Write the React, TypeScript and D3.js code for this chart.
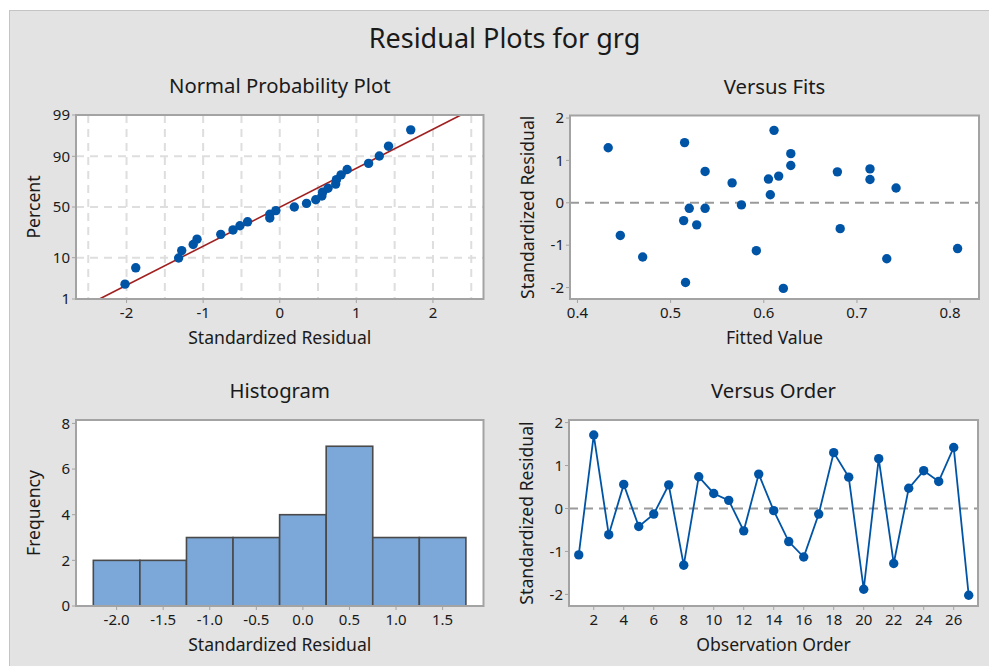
import React from "react";
import * as d3 from "d3";

// residuals by observation order (standardized)
const residuals = [
  -1.08, 1.71, -0.61, 0.56, -0.42, -0.13, 0.55, -1.32, 0.74, 0.35, 0.19, -0.52, 0.8, -0.05,
  -0.77, -1.13, -0.13, 1.3, 0.73, -1.88, 1.16, -1.28, 0.47, 0.88, 0.63, 1.42, -2.02,
];
const fittedValues = [
  0.808, 0.611, 0.682, 0.605, 0.514, 0.52, 0.714, 0.732, 0.537, 0.742, 0.607, 0.528, 0.714, 0.576,
  0.446, 0.592, 0.537, 0.433, 0.679, 0.516, 0.629, 0.47, 0.566, 0.629, 0.616, 0.515, 0.621,
];
const histEdges = [-2.25, -1.75, -1.25, -0.75, -0.25, 0.25, 0.75, 1.25, 1.75];
const histCounts = [2, 2, 3, 3, 4, 7, 3, 3];

const probTicks = [1, 10, 50, 90, 99];
const probGrid = [10, 50, 90];
const residTicks = [-2, -1, 0, 1, 2];
const fitTicks = [0.4, 0.5, 0.6, 0.7, 0.8];
const histXTicks = [-2.0, -1.5, -1.0, -0.5, 0.0, 0.5, 1.0, 1.5];
const histYTicks = [0, 2, 4, 6, 8];
const orderTicks = [2, 4, 6, 8, 10, 12, 14, 16, 18, 20, 22, 24, 26];

const FONT = "'Noto Sans', 'Open Sans', sans-serif";
const TEXT = "#1a1a1a";
const FRAME = "#a3a3a3";
const BLUE = "#0054a6";

// inverse normal cdf (Acklam)
const probit = (p: number) => {
  const a = [-39.69683028665376, 220.9460984245205, -275.9285104469687, 138.357751867269, -30.66479806614716, 2.506628277459239];
  const b = [-54.47609879822406, 161.5858368580409, -155.6989798598866, 66.80131188771972, -13.28068155288572];
  const c = [-0.007784894002430293, -0.3223964580411365, -2.400758277161838, -2.549732539343734, 4.374664141464968, 2.938163982698783];
  const d = [0.007784695709041462, 0.3224671290700398, 2.445134137142996, 3.754408661907416];
  const tail = (q: number) =>
    (((((c[0] * q + c[1]) * q + c[2]) * q + c[3]) * q + c[4]) * q + c[5]) /
    ((((d[0] * q + d[1]) * q + d[2]) * q + d[3]) * q + 1);
  if (p < 0.02425) return tail(Math.sqrt(-2 * Math.log(p)));
  if (p > 1 - 0.02425) return -tail(Math.sqrt(-2 * Math.log(1 - p)));
  const q = p - 0.5;
  const r = q * q;
  return (
    ((((((a[0] * r + a[1]) * r + a[2]) * r + a[3]) * r + a[4]) * r + a[5]) * q) /
    (((((b[0] * r + b[1]) * r + b[2]) * r + b[3]) * r + b[4]) * r + 1)
  );
};

type Box = { x0: number; x1: number; y0: number; y1: number };

const Panel = ({
  box,
  title,
  xLabel,
  yLabel,
  xScale,
  yScale,
  xTicks,
  yTicks,
  xFmt = (v: number) => String(v),
  yFmt = (v: number) => String(v),
  children,
}: any) => {
  const { x0, x1, y0, y1 } = box as Box;
  const cx = (x0 + x1) / 2;
  const cy = (y0 + y1) / 2;
  return (
    <g fontFamily={FONT} fill={TEXT}>
      <text x={cx} y={y0 - 22} textAnchor="middle" fontSize={20.3}>
        {title}
      </text>
      <rect x={x0} y={y0} width={x1 - x0} height={y1 - y0} fill="white" />
      {children}
      <rect x={x0} y={y0} width={x1 - x0} height={y1 - y0} fill="none" stroke={FRAME} strokeWidth={2} />
      {xTicks.map((t: number) => (
        <g key={"x" + t}>
          <line x1={xScale(t)} x2={xScale(t)} y1={y1 + 1} y2={y1 + 4} stroke={FRAME} strokeWidth={1} />
          <text x={xScale(t)} y={y1 + 19} textAnchor="middle" fontSize={15}>
            {xFmt(t)}
          </text>
        </g>
      ))}
      {yTicks.map((t: number) => (
        <g key={"y" + t}>
          <line x1={x0 - 4} x2={x0 - 1} y1={yScale(t)} y2={yScale(t)} stroke={FRAME} strokeWidth={1} />
          <text x={x0 - 6} y={yScale(t)} dy="0.35em" textAnchor="end" fontSize={15}>
            {yFmt(t)}
          </text>
        </g>
      ))}
      <text x={cx} y={y1 + 45} textAnchor="middle" fontSize={17.6}>
        {xLabel}
      </text>
      <text
        transform={`translate(${x0 - 42}, ${cy}) rotate(-90)`}
        textAnchor="middle"
        dy="0.35em"
        fontSize={17.6}
      >
        {yLabel}
      </text>
    </g>
  );
};

const ProbabilityPlot = ({ box }: { box: Box }) => {
  const n = residuals.length;
  const sorted = residuals.slice().sort((a, b) => a - b);
  const x = d3.scaleLinear().domain([-2.66, 2.66]).range([box.x0, box.x1]);
  const y = d3.scaleLinear().domain([probit(0.01), probit(0.99)]).range([box.y1, box.y0]);
  const yp = (p: number) => y(probit(p / 100));
  const mean = d3.mean(residuals) as number;
  const sd = d3.deviation(residuals) as number;
  const zEnds = [probit(0.01), probit(0.99)];
  const fitLine = d3
    .line<number>()
    .x((z) => x(mean + sd * z))
    .y((z) => y(z))(zEnds);
  const grid = d3.range(-2.5, 2.51, 0.5);
  return (
    <Panel
      box={box}
      title="Normal Probability Plot"
      xLabel="Standardized Residual"
      yLabel="Percent"
      xScale={x}
      yScale={yp}
      xTicks={residTicks}
      yTicks={probTicks}
    >
      {grid.map((g) => (
        <line key={"g" + g} x1={x(g)} x2={x(g)} y1={box.y0} y2={box.y1} stroke="#dedede" strokeWidth={2} strokeDasharray="8,6" />
      ))}
      {probGrid.map((p) => (
        <line key={"h" + p} x1={box.x0} x2={box.x1} y1={yp(p)} y2={yp(p)} stroke="#dedede" strokeWidth={2} strokeDasharray="8,6" />
      ))}
      <path d={fitLine as string} stroke="#a02020" strokeWidth={1.6} fill="none" />
      {sorted.map((r, i) => (
        <circle key={i} cx={x(r)} cy={y(probit((i + 1 - 0.3) / (n + 0.4)))} r={4.7} fill={BLUE} />
      ))}
    </Panel>
  );
};

const FitsPlot = ({ box }: { box: Box }) => {
  const x = d3.scaleLinear().domain([0.392, 0.831]).range([box.x0, box.x1]);
  const y = d3.scaleLinear().domain([-2.27, 2.06]).range([box.y1, box.y0]);
  return (
    <Panel
      box={box}
      title="Versus Fits"
      xLabel="Fitted Value"
      yLabel="Standardized Residual"
      xScale={x}
      yScale={y}
      xTicks={fitTicks}
      yTicks={residTicks}
      xFmt={(v: number) => v.toFixed(1)}
    >
      <line x1={box.x0} x2={box.x1} y1={y(0)} y2={y(0)} stroke="#9a9a9a" strokeWidth={2} strokeDasharray="9,6" />
      {residuals.map((r, i) => (
        <circle key={i} cx={x(fittedValues[i])} cy={y(r)} r={4.7} fill={BLUE} />
      ))}
    </Panel>
  );
};

const HistogramPlot = ({ box }: { box: Box }) => {
  const x = d3.scaleLinear().domain([-2.436, 1.939]).range([box.x0, box.x1]);
  const y = d3.scaleLinear().domain([0, 8.15]).range([box.y1, box.y0]);
  return (
    <Panel
      box={box}
      title="Histogram"
      xLabel="Standardized Residual"
      yLabel="Frequency"
      xScale={x}
      yScale={y}
      xTicks={histXTicks}
      yTicks={histYTicks}
      xFmt={(v: number) => v.toFixed(1)}
    >
      {histCounts.map((c, i) => (
        <rect
          key={i}
          x={x(histEdges[i])}
          y={y(c)}
          width={x(histEdges[i + 1]) - x(histEdges[i])}
          height={y(0) - y(c)}
          fill="#7ba7d9"
          stroke="#4a4a4a"
          strokeWidth={1.6}
        />
      ))}
    </Panel>
  );
};

const OrderPlot = ({ box }: { box: Box }) => {
  const x = d3.scaleLinear().domain([0.35, 27.62]).range([box.x0, box.x1]);
  const y = d3.scaleLinear().domain([-2.27, 2.06]).range([box.y1, box.y0]);
  const path = d3
    .line<number>()
    .x((_, i) => x(i + 1))
    .y((r) => y(r))(residuals);
  return (
    <Panel
      box={box}
      title="Versus Order"
      xLabel="Observation Order"
      yLabel="Standardized Residual"
      xScale={x}
      yScale={y}
      xTicks={orderTicks}
      yTicks={residTicks}
    >
      <line x1={box.x0} x2={box.x1} y1={y(0)} y2={y(0)} stroke="#9a9a9a" strokeWidth={2} strokeDasharray="9,6" />
      <path d={path as string} stroke={BLUE} strokeWidth={1.8} fill="none" />
      {residuals.map((r, i) => (
        <circle key={i} cx={x(i + 1)} cy={y(r)} r={4.7} fill={BLUE} />
      ))}
    </Panel>
  );
};

export default function App() {
  const width = 989;
  const height = 666;
  return (
    <svg width={width} height={height} style={{ position: "absolute", left: 0, top: 0, display: "block" }}>
      <rect x={0} y={0} width={width} height={height} fill="white" />
      <rect x={9.5} y={10.5} width={width} height={height} fill="#e3e3e3" stroke="#c4c4c4" strokeWidth={1} />
      <text x={504.5} y={48} textAnchor="middle" fontFamily={FONT} fontSize={27} fill={TEXT}>
        Residual Plots for grg
      </text>
      <ProbabilityPlot box={{ x0: 76, x1: 483.5, y0: 115, y1: 299 }} />
      <FitsPlot box={{ x0: 570, x1: 979, y0: 115.5, y1: 299 }} />
      <HistogramPlot box={{ x0: 76, x1: 483.5, y0: 420, y1: 606 }} />
      <OrderPlot box={{ x0: 569, x1: 978, y0: 420, y1: 606 }} />
    </svg>
  );
}
